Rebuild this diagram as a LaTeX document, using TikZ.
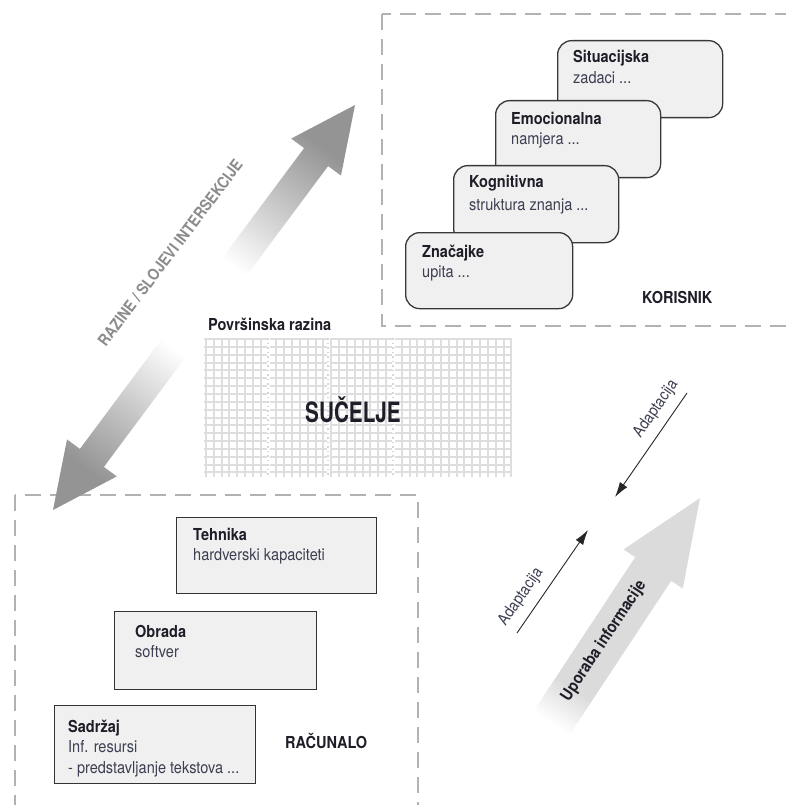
\documentclass[tikz,border=0pt]{standalone}
\usepackage{fontspec}
\setmainfont{TeX Gyre Heros}
\newfontfamily\cnd{TeX Gyre Heros}[FakeStretch=0.88]
\newfontfamily\cndx{TeX Gyre Heros}[FakeStretch=0.74]
\usetikzlibrary{arrows.meta}
\definecolor{subc}{RGB}{60,62,82}
\definecolor{ttlc}{RGB}{30,30,40}
\pgfdeclarehorizontalshading{razfade}{100bp}{color(0bp)=(white); color(27bp)=(white); color(46bp)=(black!19); color(70bp)=(black!42); color(100bp)=(black!42)}
\pgfdeclarehorizontalshading{upofade}{100bp}{color(0bp)=(white); color(26bp)=(white); color(35bp)=(black!14); color(100bp)=(black!14)}
\tikzset{
  dashbox/.style={draw=black!30, line width=2.2pt, dash pattern=on 16pt off 9pt},
  rbox/.style={draw=black!78, line width=1.3pt, fill=black!6, rounded corners=14pt, inner sep=0pt, anchor=north west},
  sbox/.style={draw=black!80, line width=1.1pt, fill=black!6, inner sep=0pt, anchor=north west},
  ttl/.style={anchor=base west, inner sep=0pt, font=\cnd\bfseries\fontsize{16.5}{19}\selectfont, text=ttlc},
  sub/.style={anchor=base west, inner sep=0pt, font=\cnd\fontsize{16.5}{19}\selectfont, text=subc},
  gridl/.style={draw=black!13, line width=2pt},
  gridgap/.style={draw=white, line width=3pt},
  griddot/.style={draw=black!16, line width=1.5pt, dash pattern=on 1.5pt off 3pt},
  adapt/.style={draw=black!85, line width=0.9pt, -{Latex[length=15pt,width=9pt]}},
}
\begin{document}
\begin{tikzpicture}[x=1pt,y=-1pt]
\useasboundingbox (0,0) rectangle (786,805);
\clip (0,0) rectangle (786,805);

% ---------- KORISNIK region ----------
\draw[dashbox] (382,14) rectangle (812,326);
\node[rbox, minimum width=165pt, minimum height=77pt] (sit) at (557,40) {};
\node[ttl] (sitT) at (573,63) {Situacijska};
\node[sub] (sitS) at (573,84) {zadaci ...};
\node[rbox, minimum width=165pt, minimum height=77pt] (emo) at (495,100) {};
\node[ttl] (emoT) at (511,125) {Emocionalna};
\node[sub] (emoS) at (511,145) {namjera ...};
\node[rbox, minimum width=165pt, minimum height=77pt] (kog) at (453,165) {};
\node[ttl] (kogT) at (469,188) {Kognitivna};
\node[sub] (kogS) at (469,210) {struktura znanja ...};
\node[rbox, minimum width=167pt, minimum height=76pt] (zna) at (405,232) {};
\node[ttl] (znaT) at (422,257) {Značajke};
\node[sub] (znaS) at (422,277) {upita ...};
\node[ttl] (kor) at (642,303) {KORISNIK};

% ---------- RAČUNALO region ----------
\draw[dashbox] (15,495) rectangle (418,830);
\node[sbox, minimum width=200pt, minimum height=76pt] (teh) at (176,517) {};
\node[ttl] (tehT) at (193,540) {Tehnika};
\node[sub] (tehS) at (193,560) {hardverski kapaciteti};
\node[sbox, minimum width=202pt, minimum height=78pt] (obr) at (114,611) {};
\node[ttl] (obrT) at (135,637) {Obrada};
\node[sub] (obrS) at (135,657) {softver};
\node[sbox, minimum width=201pt, minimum height=78pt] (sad) at (54,705) {};
\node[ttl] (sadT) at (68,732) {Sadržaj};
\node[sub] (sadS1) at (68,752) {Inf. resursi};
\node[sub] (sadS2) at (68,773) {- predstavljanje tekstova ...};
\node[ttl] (rac) at (285,748) {RAČUNALO};

% ---------- interface grid ----------
\foreach \i in {0,...,39} \draw[gridl] (206+\i*7.83,338) -- (206+\i*7.83,477);
\foreach \j in {0,...,17} \draw[gridl] (204,339+\j*7.85) -- (512,339+\j*7.85);
\foreach \xx in {268,328,393} {
  \draw[gridgap] (\xx,337) -- (\xx,478);
  \draw[griddot] (\xx,338) -- (\xx,477);
}
\node[ttl] (pov) at (208,330) {Površinska razina};
\node[inner sep=0pt, font=\cndx\bfseries\fontsize{28}{30}\selectfont, text=ttlc] (suc) at (353,410) {SUČELJE};

% ---------- RAZINE / SLOJEVI double arrow ----------
\shade[shading=razfade, shading angle=53.3]
  (205.5,280.5) -- (304.1,148.1) -- (291.2,138.6) -- (355,105) -- (341,175.6) -- (328.1,166.1) -- (229.5,298.5) -- cycle;
\shade[shading=razfade, shading angle=233.3]
  (178.5,316.5) -- (79.9,448.9) -- (67,439.4) -- (53,510) -- (116.8,476.4) -- (103.9,466.9) -- (202.5,334.5) -- cycle;
\node[inner sep=0pt, rotate=53, font=\cnd\bfseries\fontsize{16}{18}\selectfont, text=black!45] (raz) at (170,253) {RAZINE / SLOJEVI INTERSEKCIJE};

% ---------- Uporaba informacije arrow ----------
\shade[shading=upofade, shading angle=56.6]
  (516.7,736.7) -- (635.2,557.2) -- (623.6,549.4) -- (700,498) -- (682.8,588.6) -- (671.2,580.8) -- (552.7,760.3) -- cycle;
\node[inner sep=0pt, rotate=56.6, font=\cnd\bfseries\fontsize{16.5}{19}\selectfont, text=ttlc] (upo) at (604,641) {Uporaba informacije};

% ---------- Adaptacija arrows ----------
\coordinate (a1s) at (687,393);
\coordinate (a1e) at (615,497);
\coordinate (a2s) at (517,633);
\coordinate (a2e) at (588,530);
\draw[adapt] (a1s) -- (a1e);
\draw[adapt] (a2s) -- (a2e);
\node[inner sep=0pt, rotate=55.3, font=\cnd\fontsize{16}{18}\selectfont, text=subc] (ad1) at (656,409) {Adaptacija};
\node[inner sep=0pt, rotate=55.3, font=\cnd\fontsize{16}{18}\selectfont, text=subc] (ad2) at (521,597) {Adaptacija};
\end{tikzpicture}
\end{document}
